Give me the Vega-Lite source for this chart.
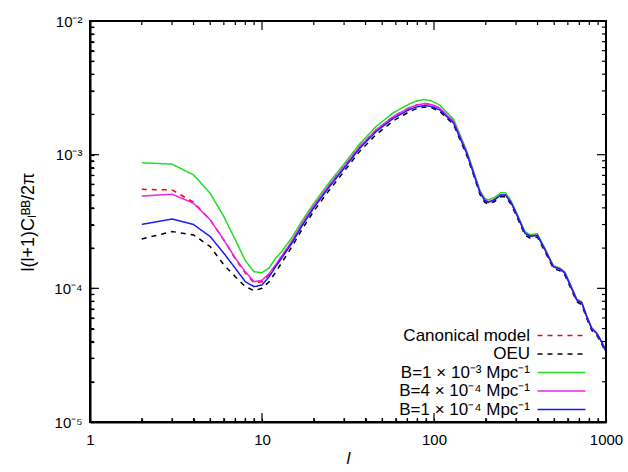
{
"$schema": "https://vega.github.io/schema/vega-lite/v6.json",
"width": 516, "height": 401,
"autosize": "none",
"padding": {"left": 90, "top": 21, "right": 22, "bottom": 50},
"background": "white",
"config": {"view": {"stroke": null}},
"datasets": {
 "xminor": [{"t":2},{"t":3},{"t":4},{"t":5},{"t":6},{"t":7},{"t":8},{"t":9},{"t":20},{"t":30},{"t":40},{"t":50},{"t":60},{"t":70},{"t":80},{"t":90},{"t":200},{"t":300},{"t":400},{"t":500},{"t":600},{"t":700},{"t":800},{"t":900}],
 "xmajor": [{"t":10},{"t":100}],
 "yminor": [{"t":0.00002},{"t":0.00003},{"t":0.00004},{"t":0.00005},{"t":0.00006},{"t":0.00007},{"t":0.00008},{"t":0.00009},{"t":0.0002},{"t":0.0003},{"t":0.0004},{"t":0.0005},{"t":0.0006},{"t":0.0007},{"t":0.0008},{"t":0.0009},{"t":0.002},{"t":0.003},{"t":0.004},{"t":0.005},{"t":0.006},{"t":0.007},{"t":0.008},{"t":0.009}],
 "ymajor": [{"t":0.0001},{"t":0.001}]
},
"data": {"values": [
{"s":"a","l":2,"C":5.5e-4},{"s":"a","l":3,"C":5.45e-4},{"s":"a","l":4,"C":4.4e-4},{"s":"a","l":5,"C":3.25e-4},{"s":"a","l":6,"C":2.3e-4},{"s":"a","l":7,"C":1.66e-4},{"s":"a","l":8,"C":1.3e-4},{"s":"a","l":9,"C":1.1e-4},{"s":"a","l":10,"C":1.12e-4},{"s":"a","l":11,"C":1.27e-4},{"s":"a","l":12,"C":1.48e-4},{"s":"a","l":13,"C":1.73e-4},{"s":"a","l":15,"C":2.27e-4},{"s":"a","l":17,"C":2.99e-4},{"s":"a","l":20,"C":4.12e-4},{"s":"a","l":24,"C":5.67e-4},{"s":"a","l":30,"C":8.14e-4},{"s":"a","l":37,"C":1.15e-3},{"s":"a","l":46,"C":1.53e-3},{"s":"a","l":58,"C":1.93e-3},{"s":"a","l":72,"C":2.25e-3},{"s":"a","l":80,"C":2.36e-3},{"s":"a","l":88,"C":2.41e-3},{"s":"a","l":97,"C":2.37e-3},{"s":"a","l":108,"C":2.23e-3},{"s":"a","l":130,"C":1.77e-3},{"s":"a","l":155,"C":1.04e-3},{"s":"a","l":170,"C":7.3e-4},{"s":"a","l":185,"C":5.25e-4},{"s":"a","l":197,"C":4.58e-4},{"s":"a","l":207,"C":4.42e-4},{"s":"a","l":225,"C":4.62e-4},{"s":"a","l":245,"C":5.02e-4},{"s":"a","l":260,"C":5.02e-4},{"s":"a","l":280,"C":4.42e-4},{"s":"a","l":303,"C":3.56e-4},{"s":"a","l":338,"C":2.59e-4},{"s":"a","l":361,"C":2.46e-4},{"s":"a","l":399,"C":2.5e-4},{"s":"a","l":442,"C":1.95e-4},{"s":"a","l":494,"C":1.46e-4},{"s":"a","l":540,"C":1.4e-4},{"s":"a","l":576,"C":1.31e-4},{"s":"a","l":631,"C":1.0e-4},{"s":"a","l":675,"C":8.25e-5},{"s":"a","l":722,"C":7.85e-5},{"s":"a","l":772,"C":6.2e-5},{"s":"a","l":826,"C":5.02e-5},{"s":"a","l":883,"C":4.62e-5},{"s":"a","l":940,"C":4.02e-5},{"s":"a","l":1000,"C":3.38e-5},
{"s":"b","l":2,"C":2.34e-4},{"s":"b","l":3,"C":2.66e-4},{"s":"b","l":4,"C":2.51e-4},{"s":"b","l":5,"C":2.05e-4},{"s":"b","l":6,"C":1.5e-4},{"s":"b","l":7,"C":1.22e-4},{"s":"b","l":8,"C":1.03e-4},{"s":"b","l":9,"C":9.6e-5},{"s":"b","l":10,"C":1.0e-4},{"s":"b","l":11,"C":1.12e-4},{"s":"b","l":12,"C":1.32e-4},{"s":"b","l":13,"C":1.55e-4},{"s":"b","l":15,"C":2.07e-4},{"s":"b","l":17,"C":2.73e-4},{"s":"b","l":20,"C":3.78e-4},{"s":"b","l":24,"C":5.2e-4},{"s":"b","l":30,"C":7.5e-4},{"s":"b","l":37,"C":1.06e-3},{"s":"b","l":46,"C":1.41e-3},{"s":"b","l":58,"C":1.79e-3},{"s":"b","l":72,"C":2.1e-3},{"s":"b","l":80,"C":2.22e-3},{"s":"b","l":88,"C":2.27e-3},{"s":"b","l":97,"C":2.24e-3},{"s":"b","l":108,"C":2.11e-3},{"s":"b","l":130,"C":1.68e-3},{"s":"b","l":155,"C":9.9e-4},{"s":"b","l":170,"C":7.0e-4},{"s":"b","l":185,"C":5.05e-4},{"s":"b","l":197,"C":4.41e-4},{"s":"b","l":207,"C":4.27e-4},{"s":"b","l":225,"C":4.46e-4},{"s":"b","l":245,"C":4.85e-4},{"s":"b","l":260,"C":4.85e-4},{"s":"b","l":280,"C":4.27e-4},{"s":"b","l":303,"C":3.44e-4},{"s":"b","l":338,"C":2.5e-4},{"s":"b","l":361,"C":2.38e-4},{"s":"b","l":399,"C":2.42e-4},{"s":"b","l":442,"C":1.88e-4},{"s":"b","l":494,"C":1.41e-4},{"s":"b","l":540,"C":1.35e-4},{"s":"b","l":576,"C":1.26e-4},{"s":"b","l":631,"C":9.7e-5},{"s":"b","l":675,"C":7.95e-5},{"s":"b","l":722,"C":7.57e-5},{"s":"b","l":772,"C":5.97e-5},{"s":"b","l":826,"C":4.85e-5},{"s":"b","l":883,"C":4.46e-5},{"s":"b","l":940,"C":3.88e-5},{"s":"b","l":1000,"C":3.27e-5},
{"s":"c","l":2,"C":8.7e-4},{"s":"c","l":3,"C":8.5e-4},{"s":"c","l":4,"C":7.05e-4},{"s":"c","l":5,"C":5.14e-4},{"s":"c","l":6,"C":3.44e-4},{"s":"c","l":7,"C":2.3e-4},{"s":"c","l":8,"C":1.61e-4},{"s":"c","l":9,"C":1.33e-4},{"s":"c","l":10,"C":1.31e-4},{"s":"c","l":11,"C":1.42e-4},{"s":"c","l":12,"C":1.68e-4},{"s":"c","l":13,"C":1.88e-4},{"s":"c","l":15,"C":2.42e-4},{"s":"c","l":17,"C":3.16e-4},{"s":"c","l":20,"C":4.32e-4},{"s":"c","l":24,"C":5.94e-4},{"s":"c","l":30,"C":8.53e-4},{"s":"c","l":37,"C":1.205e-3},{"s":"c","l":46,"C":1.62e-3},{"s":"c","l":58,"C":2.06e-3},{"s":"c","l":72,"C":2.4e-3},{"s":"c","l":80,"C":2.53e-3},{"s":"c","l":88,"C":2.59e-3},{"s":"c","l":97,"C":2.52e-3},{"s":"c","l":108,"C":2.35e-3},{"s":"c","l":130,"C":1.84e-3},{"s":"c","l":155,"C":1.07e-3},{"s":"c","l":170,"C":7.5e-4},{"s":"c","l":185,"C":5.4e-4},{"s":"c","l":197,"C":4.73e-4},{"s":"c","l":207,"C":4.58e-4},{"s":"c","l":225,"C":4.78e-4},{"s":"c","l":245,"C":5.2e-4},{"s":"c","l":260,"C":5.2e-4},{"s":"c","l":280,"C":4.53e-4},{"s":"c","l":303,"C":3.66e-4},{"s":"c","l":338,"C":2.66e-4},{"s":"c","l":361,"C":2.52e-4},{"s":"c","l":399,"C":2.56e-4},{"s":"c","l":442,"C":1.99e-4},{"s":"c","l":494,"C":1.48e-4},{"s":"c","l":540,"C":1.42e-4},{"s":"c","l":576,"C":1.33e-4},{"s":"c","l":631,"C":1.02e-4},{"s":"c","l":675,"C":8.35e-5},{"s":"c","l":722,"C":7.9e-5},{"s":"c","l":772,"C":6.2e-5},{"s":"c","l":826,"C":5.05e-5},{"s":"c","l":883,"C":4.62e-5},{"s":"c","l":940,"C":4.0e-5},{"s":"c","l":1000,"C":3.37e-5},
{"s":"d","l":2,"C":4.9e-4},{"s":"d","l":3,"C":5.06e-4},{"s":"d","l":4,"C":4.33e-4},{"s":"d","l":5,"C":3.25e-4},{"s":"d","l":6,"C":2.3e-4},{"s":"d","l":7,"C":1.68e-4},{"s":"d","l":8,"C":1.33e-4},{"s":"d","l":9,"C":1.12e-4},{"s":"d","l":10,"C":1.15e-4},{"s":"d","l":11,"C":1.29e-4},{"s":"d","l":12,"C":1.5e-4},{"s":"d","l":13,"C":1.74e-4},{"s":"d","l":15,"C":2.28e-4},{"s":"d","l":17,"C":3.0e-4},{"s":"d","l":20,"C":4.13e-4},{"s":"d","l":24,"C":5.68e-4},{"s":"d","l":30,"C":8.15e-4},{"s":"d","l":37,"C":1.15e-3},{"s":"d","l":46,"C":1.53e-3},{"s":"d","l":58,"C":1.93e-3},{"s":"d","l":72,"C":2.25e-3},{"s":"d","l":80,"C":2.36e-3},{"s":"d","l":88,"C":2.41e-3},{"s":"d","l":97,"C":2.37e-3},{"s":"d","l":108,"C":2.23e-3},{"s":"d","l":130,"C":1.77e-3},{"s":"d","l":155,"C":1.04e-3},{"s":"d","l":170,"C":7.3e-4},{"s":"d","l":185,"C":5.25e-4},{"s":"d","l":197,"C":4.58e-4},{"s":"d","l":207,"C":4.42e-4},{"s":"d","l":225,"C":4.62e-4},{"s":"d","l":245,"C":5.02e-4},{"s":"d","l":260,"C":5.02e-4},{"s":"d","l":280,"C":4.42e-4},{"s":"d","l":303,"C":3.56e-4},{"s":"d","l":338,"C":2.59e-4},{"s":"d","l":361,"C":2.46e-4},{"s":"d","l":399,"C":2.5e-4},{"s":"d","l":442,"C":1.95e-4},{"s":"d","l":494,"C":1.46e-4},{"s":"d","l":540,"C":1.4e-4},{"s":"d","l":576,"C":1.31e-4},{"s":"d","l":631,"C":1.0e-4},{"s":"d","l":675,"C":8.25e-5},{"s":"d","l":722,"C":7.85e-5},{"s":"d","l":772,"C":6.2e-5},{"s":"d","l":826,"C":5.02e-5},{"s":"d","l":883,"C":4.62e-5},{"s":"d","l":940,"C":4.02e-5},{"s":"d","l":1000,"C":3.38e-5},
{"s":"e","l":2,"C":3.01e-4},{"s":"e","l":3,"C":3.3e-4},{"s":"e","l":4,"C":3.0e-4},{"s":"e","l":5,"C":2.44e-4},{"s":"e","l":6,"C":1.83e-4},{"s":"e","l":7,"C":1.41e-4},{"s":"e","l":8,"C":1.12e-4},{"s":"e","l":9,"C":1.03e-4},{"s":"e","l":10,"C":1.06e-4},{"s":"e","l":11,"C":1.22e-4},{"s":"e","l":12,"C":1.45e-4},{"s":"e","l":13,"C":1.68e-4},{"s":"e","l":15,"C":2.2e-4},{"s":"e","l":17,"C":2.9e-4},{"s":"e","l":20,"C":4.0e-4},{"s":"e","l":24,"C":5.5e-4},{"s":"e","l":30,"C":7.9e-4},{"s":"e","l":37,"C":1.116e-3},{"s":"e","l":46,"C":1.485e-3},{"s":"e","l":58,"C":1.87e-3},{"s":"e","l":72,"C":2.18e-3},{"s":"e","l":80,"C":2.28e-3},{"s":"e","l":88,"C":2.33e-3},{"s":"e","l":97,"C":2.29e-3},{"s":"e","l":108,"C":2.16e-3},{"s":"e","l":130,"C":1.72e-3},{"s":"e","l":155,"C":1.02e-3},{"s":"e","l":170,"C":7.2e-4},{"s":"e","l":185,"C":5.2e-4},{"s":"e","l":197,"C":4.55e-4},{"s":"e","l":207,"C":4.4e-4},{"s":"e","l":225,"C":4.6e-4},{"s":"e","l":245,"C":5.0e-4},{"s":"e","l":260,"C":5.0e-4},{"s":"e","l":280,"C":4.4e-4},{"s":"e","l":303,"C":3.55e-4},{"s":"e","l":338,"C":2.58e-4},{"s":"e","l":361,"C":2.45e-4},{"s":"e","l":399,"C":2.49e-4},{"s":"e","l":442,"C":1.94e-4},{"s":"e","l":494,"C":1.45e-4},{"s":"e","l":540,"C":1.39e-4},{"s":"e","l":576,"C":1.3e-4},{"s":"e","l":631,"C":1.0e-4},{"s":"e","l":675,"C":8.2e-5},{"s":"e","l":722,"C":7.8e-5},{"s":"e","l":772,"C":6.15e-5},{"s":"e","l":826,"C":5.0e-5},{"s":"e","l":883,"C":4.6e-5},{"s":"e","l":940,"C":4.0e-5},{"s":"e","l":1000,"C":3.37e-5}
]},
"layer": [
{
 "mark": {"type": "line", "strokeWidth": 1.5},
 "encoding": {
  "x": {"field": "l", "type": "quantitative", "scale": {"type": "log", "domain": [1, 1000]},
    "axis": {"orient": "bottom", "values": [1,2,3,4,5,6,7,8,9,10,20,30,40,50,60,70,80,90,100,200,300,400,500,600,700,800,900,1000],
      "labelExpr": "abs(log(datum.value)/LN10 - round(log(datum.value)/LN10)) < 0.001 ? format(datum.value, 'd') : ''",
      "grid": false, "domainColor": "#000000", "domainWidth": 2, "tickColor": "#000000", "tickWidth": 1.2, "labelColor": "#000000", "labelFont": "Liberation Sans", "labelFontSize": 15, "labelFlush": false, "labelOverlap": false,
      "tickSize": -4, "labelPadding": 14, "title": "l", "titleFont": "Liberation Sans", "titleColor": "#000000", "titleFontWeight": "normal", "titleFontStyle": "italic", "titleFontSize": 17, "titlePadding": 3}},
  "y": {"field": "C", "type": "quantitative", "scale": {"type": "log", "domain": [0.00001, 0.01]},
    "axis": {"orient": "left", "values": [0.00001,0.00002,0.00003,0.00004,0.00005,0.00006,0.00007,0.00008,0.00009,0.0001,0.0002,0.0003,0.0004,0.0005,0.0006,0.0007,0.0008,0.0009,0.001,0.002,0.003,0.004,0.005,0.006,0.007,0.008,0.009,0.01],
      "labelExpr": "abs(log(datum.value)/LN10 - round(log(datum.value)/LN10)) < 0.001 ? '10' + (round(log(datum.value)/LN10) == -2 ? '⁻²' : round(log(datum.value)/LN10) == -3 ? '⁻³' : round(log(datum.value)/LN10) == -4 ? '⁻⁴' : '⁻⁵') : ''",
      "grid": false, "domainColor": "#000000", "domainWidth": 2, "tickColor": "#000000", "tickWidth": 1.2, "labelColor": "#000000", "labelFont": "Liberation Sans", "labelFontSize": 15, "labelFlush": false, "labelOverlap": false,
      "tickSize": -4, "labelPadding": 12, "title": "l(l+1)Cₗᴮᴮ/2π", "titleFont": "Liberation Sans", "titleColor": "#000000", "titleFontWeight": "normal", "titleFontSize": 18, "titlePadding": 16}},
  "color": {"field": "s", "type": "nominal",
    "scale": {"domain": ["a","b","c","d","e"], "range": ["#ff0000","#000000","#22dd22","#ee22ee","#1a1aff"]},
    "legend": {"orient": "none", "legendX": 463, "legendY": 306, "title": null, "symbolType": "M-4,0H4", "symbolSize": 144, "symbolStrokeWidth": 1.5, "labelFont": "Liberation Sans", "labelFontSize": 17, "labelColor": "black", "labelAlign": "right", "labelOffset": -40, "rowPadding": 0.5, "padding": 0,
      "labelExpr": "datum.value=='a'?'Canonical model':datum.value=='b'?'OEU':datum.value=='c'?'B=1 × 10⁻³ Mpc⁻¹':datum.value=='d'?'B=4 × 10⁻⁴ Mpc⁻¹':'B=1 × 10⁻⁴ Mpc⁻¹'"}},
  "strokeDash": {"field": "s", "type": "nominal", "scale": {"domain": ["a","b","c","d","e"], "range": [[5,5],[5,5],[1,0],[1,0],[1,0]]}}
 }
},
{
 "data": {"values": [{}]},
 "mark": {"type": "rect", "filled": false, "stroke": "#000000", "strokeWidth": 2, "opacity": 1},
 "encoding": {
  "x": {"datum": 1, "type": "quantitative"}, "x2": {"datum": 1000},
  "y": {"datum": 0.00001, "type": "quantitative"}, "y2": {"datum": 0.01}
 }
},
{
 "data": {"name": "xminor"},
 "mark": {"type": "tick", "orient": "vertical", "size": 4, "thickness": 1.2, "color": "#000000", "opacity": 1, "yOffset": -2},
 "encoding": {"x": {"field": "t", "type": "quantitative"}, "y": {"datum": 0.00001, "type": "quantitative"}}
},
{
 "data": {"name": "xminor"},
 "mark": {"type": "tick", "orient": "vertical", "size": 4, "thickness": 1.2, "color": "#000000", "opacity": 1, "yOffset": 2},
 "encoding": {"x": {"field": "t", "type": "quantitative"}, "y": {"datum": 0.01, "type": "quantitative"}}
},
{
 "data": {"name": "xmajor"},
 "mark": {"type": "tick", "orient": "vertical", "size": 9, "thickness": 1.2, "color": "#000000", "opacity": 1, "yOffset": -4.5},
 "encoding": {"x": {"field": "t", "type": "quantitative"}, "y": {"datum": 0.00001, "type": "quantitative"}}
},
{
 "data": {"name": "xmajor"},
 "mark": {"type": "tick", "orient": "vertical", "size": 9, "thickness": 1.2, "color": "#000000", "opacity": 1, "yOffset": 4.5},
 "encoding": {"x": {"field": "t", "type": "quantitative"}, "y": {"datum": 0.01, "type": "quantitative"}}
},
{
 "data": {"name": "yminor"},
 "mark": {"type": "tick", "orient": "horizontal", "size": 4, "thickness": 1.2, "color": "#000000", "opacity": 1, "xOffset": 2},
 "encoding": {"y": {"field": "t", "type": "quantitative"}, "x": {"datum": 1, "type": "quantitative"}}
},
{
 "data": {"name": "yminor"},
 "mark": {"type": "tick", "orient": "horizontal", "size": 4, "thickness": 1.2, "color": "#000000", "opacity": 1, "xOffset": -2},
 "encoding": {"y": {"field": "t", "type": "quantitative"}, "x": {"datum": 1000, "type": "quantitative"}}
},
{
 "data": {"name": "ymajor"},
 "mark": {"type": "tick", "orient": "horizontal", "size": 9, "thickness": 1.2, "color": "#000000", "opacity": 1, "xOffset": 4.5},
 "encoding": {"y": {"field": "t", "type": "quantitative"}, "x": {"datum": 1, "type": "quantitative"}}
},
{
 "data": {"name": "ymajor"},
 "mark": {"type": "tick", "orient": "horizontal", "size": 9, "thickness": 1.2, "color": "#000000", "opacity": 1, "xOffset": -4.5},
 "encoding": {"y": {"field": "t", "type": "quantitative"}, "x": {"datum": 1000, "type": "quantitative"}}
}
]
}
